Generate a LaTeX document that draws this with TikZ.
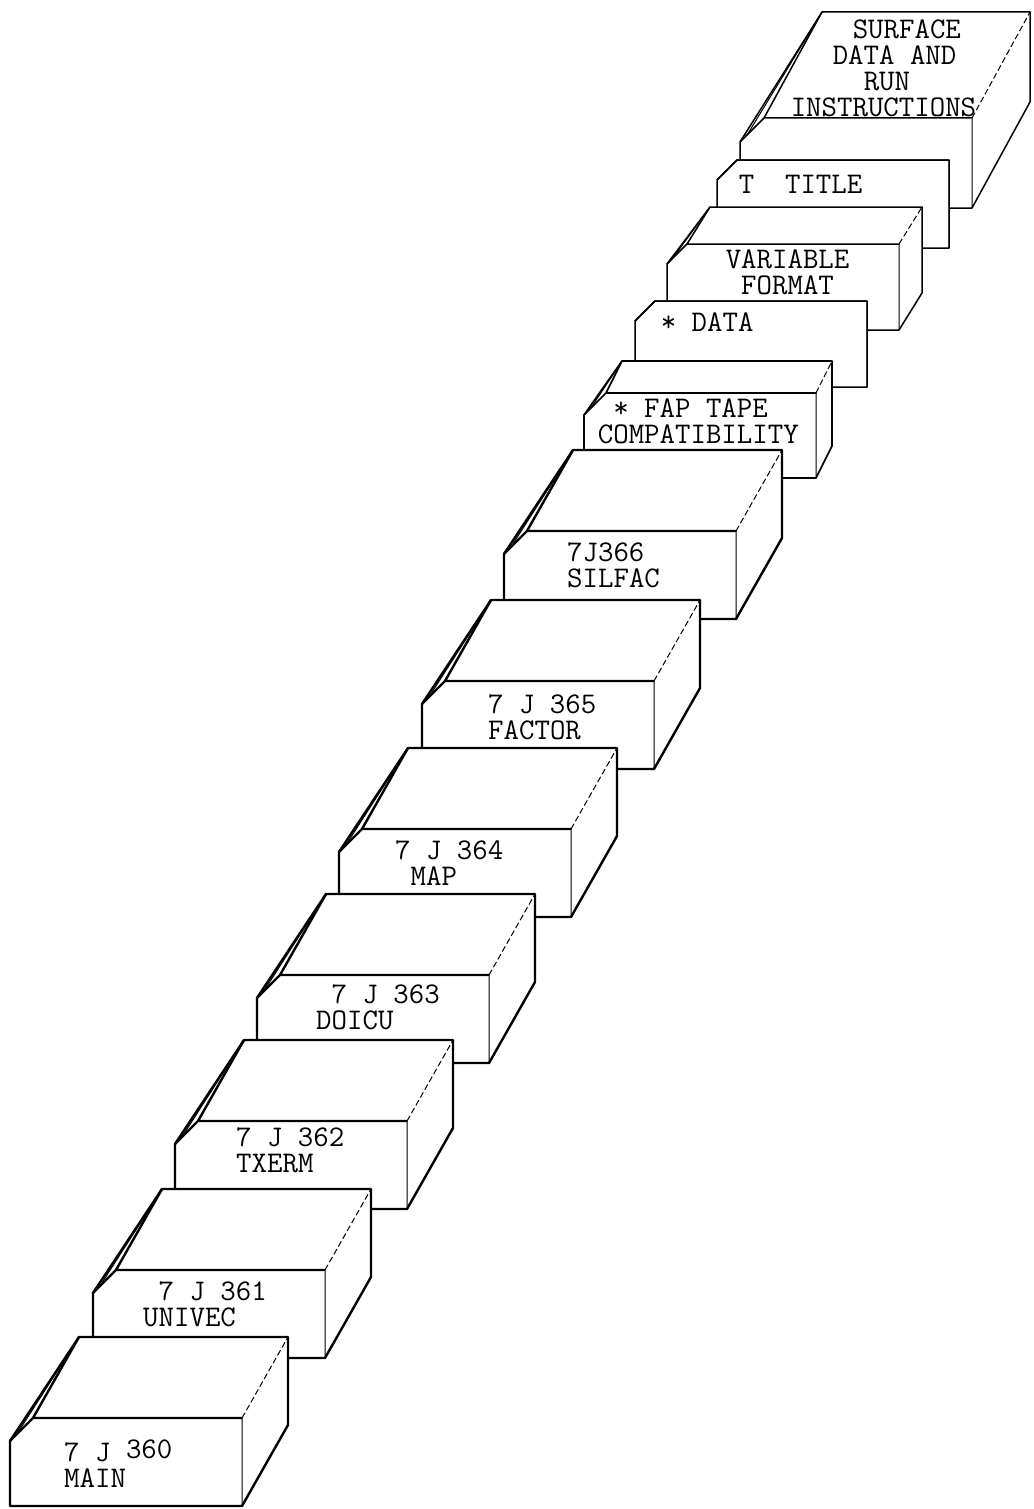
\documentclass[tikz,border=0pt]{standalone}
\usepackage{fontspec}
\begin{document}
\begin{tikzpicture}[x=1pt,y=-1pt,line join=round,
  deck/.style={draw,fill=white},
  fold/.style={line width=1pt},
  crease/.style={line width=1pt,dash pattern=on 6pt off 3pt},
  tag/.style={anchor=north west,inner sep=0pt,align=left,
    font=\ttfamily\addfontfeatures{FakeBold=2}\fontsize{30}{26}\selectfont}]
\useasboundingbox (0,0) rectangle (1033,1509);
% card decks, from the back of the stack to the front
\foreach \nm/\x/\y/\h/\c/\dx/\dy/\lw/\tx/\ty/\txt in {
  surface/740/118/90/24/58/-106/1.5pt/50/-99/{\hspace*{62pt}SURFACE\\\hspace*{42pt}DATA AND\\\hspace*{73pt}RUN\\INSTRUCTIONS},
  title/717/160/88/20/0/0/1.5pt/21/14/{T~~TITLE},
  variable/667/244/86/20/23/-37/1.5pt/58/5/{VARIABLE\\~FORMAT},
  data/635/301/86/20/0/0/1.5pt/25/11/{*~DATA},
  fap/584/393/85/22/16/-32/1.7pt/13/5/{~*~FAP~TAPE\\COMPATIBILITY},
  silfac/504/531/88/23/46/-81/2.4pt/62/11/{7J366\\SILFAC},
  factor/422/681/88/23/46/-81/2.4pt/65/13/{7~J~365\\FACTOR},
  map/339/829/88/23/46/-81/2.4pt/55/11/{7~J~364\\~MAP},
  doicu/257/975/88/23/46/-81/2.4pt/58/9/{~7~J~363\\DOICU},
  txerm/175/1121/88/23/46/-81/2.4pt/60/6/{7~J~362\\TXERM},
  univec/93/1270/88/23/46/-81/2.4pt/49/11/{~7~J~361\\UNIVEC},
  main/10/1418/88/23/46/-81/2.4pt/53/21/{7~J~\raisebox{3pt}{360}\\MAIN}}{
  \begin{scope}[shift={(\x,\y)},line width=\lw]
    \draw[deck] (0,\h) -- (0,\c) -- (\c+\dx,\dy) -- (232+\dx,\dy)
      -- (232+\dx,\h+\dy) -- (232,\h) -- cycle;
    \draw (0,\c) -- (\c,0) -- (232,0) (\c,0) -- (\c+\dx,\dy);
    \draw[fold] (0.3*\c,0.7*\c) -- (\c+\dx,\dy) (232,0) -- (232,\h);
    \draw[crease] (232,0) -- (232+\dx,\dy);
    \node[tag] (\nm) at (\tx,\ty) {\txt};
  \end{scope}
}
\end{tikzpicture}
\end{document}
